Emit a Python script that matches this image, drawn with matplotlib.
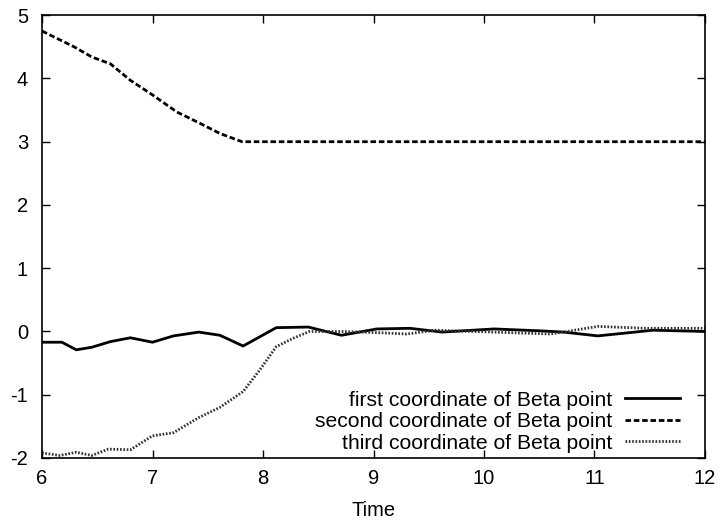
import matplotlib
matplotlib.use('Agg')
import matplotlib.pyplot as plt

# first coordinate (solid)
x1 = [6.0, 6.18, 6.31, 6.45, 6.62, 6.8, 7.0, 7.19, 7.42, 7.61, 7.82, 8.12, 8.41, 8.71, 9.03,
      9.33, 9.62, 10.09, 10.51, 10.72, 11.03, 11.53, 12.0]
y1 = [-0.17, -0.17, -0.29, -0.25, -0.16, -0.1, -0.17, -0.07, -0.01, -0.06, -0.23, 0.06, 0.07, -0.06, 0.04,
      0.05, -0.01, 0.04, 0.01, -0.01, -0.07, 0.02, 0.0]

# second coordinate (dashed)
x2 = [6.0, 6.29, 6.45, 6.62, 6.8, 7.0, 7.22, 7.43, 7.61, 7.81, 12.0]
y2 = [4.75, 4.5, 4.34, 4.23, 3.97, 3.74, 3.47, 3.29, 3.13, 3.0, 3.0]

# third coordinate (dotted)
x3 = [6.0, 6.16, 6.31, 6.45, 6.6, 6.8, 7.0, 7.19, 7.42, 7.61, 7.82, 7.97, 8.12, 8.27, 8.42, 8.71,
      9.06, 9.3, 9.56, 10.09, 10.6, 10.75, 11.03, 11.47, 12.0]
y3 = [-1.92, -1.96, -1.91, -1.96, -1.86, -1.87, -1.65, -1.6, -1.36, -1.2, -0.95, -0.61, -0.24, -0.11, 0.0, 0.0,
      -0.02, -0.04, 0.02, -0.01, -0.04, 0.0, 0.08, 0.05, 0.05]

labels = ["first coordinate of Beta point",
          "second coordinate of Beta point",
          "third coordinate of Beta point"]

plt.rcParams['font.family'] = ['Liberation Sans', 'DejaVu Sans']
plt.rcParams['axes.unicode_minus'] = False

fig = plt.figure(figsize=(7.23, 5.24), dpi=100)
ax = fig.add_axes([0.0581, 0.126, 0.917, 0.845])

ax.plot(x1, y1, color='black', lw=2.0, label=labels[0])
ax.plot(x2, y2, color='black', lw=2.0, linestyle=(0, (2, 1)), label=labels[1])
ax.plot(x3, y3, color='#333333', lw=2.0, linestyle=(0, (0.6, 0.6)), label=labels[2])

ax.set_xlim(6, 12)
ax.set_ylim(-2, 5)
ax.set_xticks(range(6, 13))
ax.set_yticks(range(-2, 6))
ax.tick_params(direction='in', top=True, right=True, length=6, width=1,
               labelsize=14.5)
ax.tick_params(axis='x', pad=8)
ax.tick_params(axis='y', pad=10)
for s in ax.spines.values():
    s.set_linewidth(1.2)
ax.set_xlabel("Time", fontsize=14.5, labelpad=9)

leg = ax.legend(loc='lower right', frameon=False, fontsize=15.2, markerfirst=False,
                handlelength=2.6, handletextpad=0.6, labelspacing=0.12,
                borderpad=0, borderaxespad=0, bbox_to_anchor=(0.962, 0.012))
for t in leg.get_texts():
    t.set_ha('right')

fig.savefig("out.png", dpi=100)
